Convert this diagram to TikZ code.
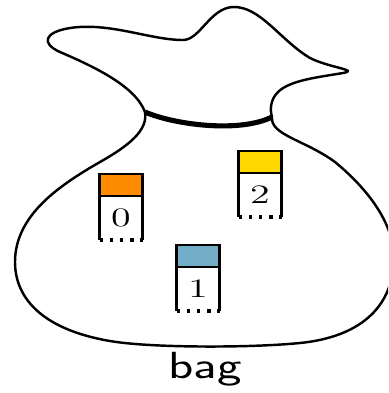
\documentclass[tikz,border=0pt]{standalone}
\usepackage{amsmath}
\usetikzlibrary{positioning}

\definecolor{tagorange}{RGB}{255,140,0}
\definecolor{tagblue}{RGB}{116,173,200}
\definecolor{tagyellow}{RGB}{255,215,0}

\tikzset{
  outline/.style={line width=1.1pt, line join=round},
  cell/.style={draw, line width=1.2pt, minimum width=43*\u, minimum height=22*\u, inner sep=0pt, outer sep=0pt},
  slot/.style={minimum width=43*\u, minimum height=44*\u, inner sep=0pt, outer sep=0pt},
}

\begin{document}
\begin{tikzpicture}[x=0.45pt,y=-0.45pt]
\def\u{0.45pt}
\clip (0,0) rectangle (388,393);

% mouth of the sack
\draw[outline] (145,112) .. controls (135,85) and (90,65) .. (60,52)
  .. controls (40,43) and (45,32) .. (70,28)
  .. controls (110,22) and (150,40) .. (183,40)
  .. controls (200,40) and (210,8) .. (233,7)
  .. controls (260,6) and (280,40) .. (310,58)
  .. controls (330,68) and (360,70) .. (343,73)
  .. controls (320,77) and (290,80) .. (278,92)
  .. controls (270,100) and (270,110) .. (272,117);
% body
\draw[outline] (145,112) .. controls (148,130) and (130,145) .. (100,162)
  .. controls (60,185) and (15,215) .. (15,262)
  .. controls (15,300) and (45,330) .. (110,341)
  .. controls (150,348) and (250,348) .. (300,343)
  .. controls (350,338) and (392,315) .. (394,260)
  .. controls (395,230) and (375,195) .. (335,162)
  .. controls (305,140) and (270,135) .. (272,117);
% string
\draw[line width=2.3pt] (145,112) .. controls (175,125) and (240,133) .. (272,117);

\node[cell, fill=tagorange] (c0) at (121,185) {};
\node[slot, below=0pt of c0] (v0) {\scalebox{1.5}[1]{\large$0$}};
\node[cell, fill=tagblue] (c1) at (198,256) {};
\node[slot, below=0pt of c1] (v1) {\scalebox{1.5}[1]{\large$1$}};
\node[cell, fill=tagyellow] (c2) at (260,162) {};
\node[slot, below=0pt of c2] (v2) {\scalebox{1.5}[1]{\large$2$}};

\foreach \i in {0,1,2} {
  \draw[line width=1.2pt] (c\i.south west) -- (v\i.south west);
  \draw[line width=1.2pt] (c\i.south east) -- (v\i.south east);
  \draw[line width=1.5pt, dash pattern=on 1.5pt off 3.1pt] (v\i.south west) -- (v\i.south east);
}

\node[anchor=base, font=\sffamily\fontsize{17}{20}\selectfont, inner sep=0pt] (name) at (205,378) {\scalebox{1.38}[1]{bag}};
\end{tikzpicture}
\end{document}
